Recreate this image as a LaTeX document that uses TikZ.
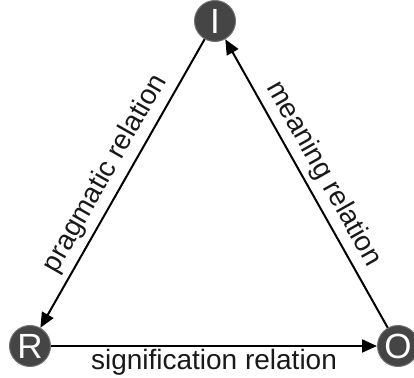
\documentclass[tikz,border=0pt]{standalone}
\usepackage{fontspec}
\setmainfont{Liberation Sans}
\usetikzlibrary{arrows.meta}
\begin{document}
\begin{tikzpicture}[x=1pt,y=1pt,
  vtx/.style={circle, fill=black!73, draw=black!55, line width=1pt, minimum size=41pt, inner sep=0pt, text=white, font=\fontsize{35}{35}\selectfont},
  rel/.style={-{Triangle[length=15pt,width=13pt]}, line width=2pt, black},
  lbl/.style={font=\fontsize{28}{28}\selectfont, text=black!90}]
\useasboundingbox (0,0) rectangle (414,377);
\node[vtx] (I) at (215,356) {I};
\node[vtx] (R) at (30,31) {R};
\node[vtx] (O) at (398,31) {O};
\draw[rel] (I) -- (R);
\draw[rel] (R) -- (O);
\draw[rel] (O) -- (I);
\path (R) -- (I) node[lbl, midway, sloped, above=3pt] {pragmatic relation};
\path (I) -- (O) node[lbl, midway, sloped, above=3pt] {meaning relation};
\path (R) -- (O) node[lbl, midway, below=0pt] {signification relation};
\end{tikzpicture}
\end{document}
